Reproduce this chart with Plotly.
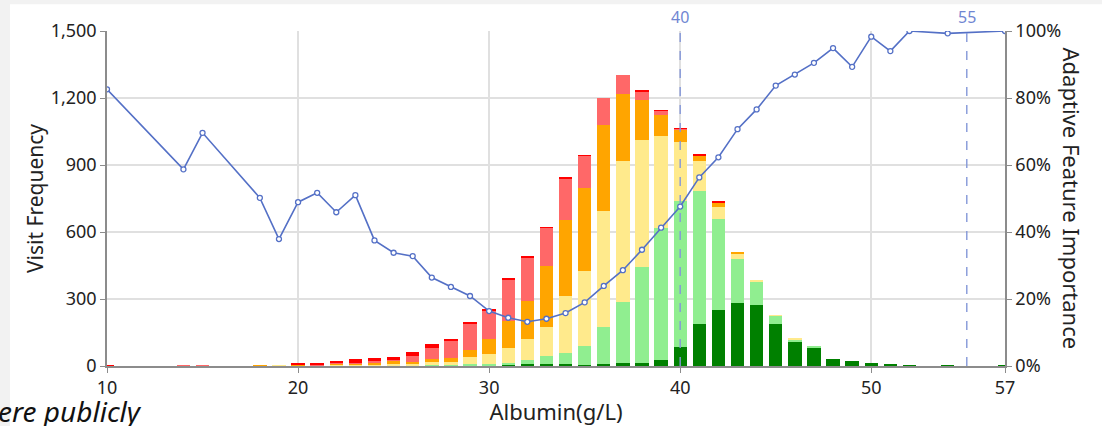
import plotly.graph_objects as go

# albumin value (g/L) for each bar / line point
albumin = [10, 14, 15, 18, 19, 20, 21, 22, 23, 24, 25, 26, 27, 28, 29, 30, 31, 32, 33, 34,
           35, 36, 37, 38, 39, 40, 41, 42, 43, 44, 45, 46, 47, 48, 49, 50, 51, 52, 54, 57]

# visit counts per risk band (bottom -> top of stack)
dark_green = [0, 0, 0, 0, 0, 0, 0, 0, 0, 0, 0, 0, 0, 0, 0, 2, 3, 9, 7, 7,
              6, 10, 15, 15, 25, 84, 188, 252, 281, 275, 188, 106, 79, 31, 22, 12, 5, 3, 2, 1]
light_green = [0, 0, 0, 0, 0, 0, 0, 0, 0, 0, 4, 3, 6, 6, 9, 8, 9, 19, 36, 49,
               84, 166, 270, 428, 594, 657, 596, 406, 199, 101, 36, 13, 10, 0, 0, 0, 0, 0, 0, 0]
yellow = [0, 0, 0, 0, 3, 2, 1, 5, 5, 6, 7, 6, 12, 10, 30, 43, 69, 91, 133, 257,
          336, 518, 634, 567, 409, 261, 134, 55, 24, 9, 4, 4, 0, 0, 0, 0, 0, 0, 0, 0]
orange = [0, 0, 0, 3, 0, 3, 2, 6, 7, 8, 12, 7, 15, 22, 31, 68, 122, 173, 272, 340,
          370, 384, 300, 182, 96, 55, 24, 18, 6, 0, 0, 0, 0, 0, 0, 0, 0, 0, 0, 0]
salmon = [0, 3, 3, 0, 0, 2, 2, 4, 3, 7, 6, 31, 49, 75, 121, 128, 185, 193, 170, 187,
          145, 124, 84, 39, 18, 5, 0, 0, 0, 0, 0, 0, 0, 0, 0, 0, 0, 0, 0, 0]
red = [2, 0, 0, 0, 0, 5, 5, 6, 15, 13, 13, 15, 16, 7, 6, 5, 4, 4, 4, 6,
       2, 0, 0, 4, 4, 2, 6, 6, 0, 0, 0, 0, 0, 0, 0, 0, 0, 0, 0, 0]

# adaptive feature importance (fraction)
importance = [0.826, 0.587, 0.696, 0.502, 0.379, 0.489, 0.517, 0.459, 0.510, 0.375,
              0.338, 0.328, 0.264, 0.236, 0.209, 0.164, 0.144, 0.132, 0.141, 0.158,
              0.190, 0.239, 0.286, 0.347, 0.413, 0.476, 0.563, 0.623, 0.707, 0.766,
              0.837, 0.870, 0.905, 0.949, 0.893, 0.983, 0.940, 1.0, 0.993, 1.0]

cutoffs = [40, 55]

bands = [
    ("dark green", dark_green, "#008000"),
    ("light green", light_green, "#90EE90"),
    ("yellow", yellow, "#FFEA8C"),
    ("orange", orange, "#FFA500"),
    ("salmon", salmon, "#FF6868"),
    ("red", red, "#FF0000"),
]

BLUE = "#5470C6"
FONT = "Noto Sans"

fig = go.Figure()
for name, vals, col in bands:
    fig.add_trace(go.Bar(x=albumin, y=vals, name=name, width=0.7,
                         marker=dict(color=col, line=dict(width=0))))

fig.add_trace(go.Scatter(x=albumin, y=importance, yaxis="y2", mode="lines+markers",
                         line=dict(color=BLUE, width=1.6),
                         marker=dict(symbol="circle", size=5, color="white",
                                     line=dict(color=BLUE, width=1.3)),
                         name="importance"))

for c in cutoffs:
    fig.add_shape(type="line", xref="x", yref="paper", x0=c, x1=c, y0=0, y1=1.01,
                  line=dict(color="#8497D8", width=1.4, dash="dash"))
    fig.add_annotation(x=c, y=1.01, xref="x", yref="paper", text=str(c), showarrow=False,
                       yanchor="bottom", yshift=-2, font=dict(color="#7086D2", size=16, family=FONT))

fig.add_annotation(x=1, y=0.5, xref="paper", yref="paper", xshift=67, xanchor="center",
                   text="Adaptive Feature Importance", textangle=90, showarrow=False,
                   font=dict(size=22, color="#222", family=FONT))

fig.add_annotation(x=0, y=0, xref="paper", yref="paper", xshift=-111, yshift=-24,
                   xanchor="left", yanchor="top", text="<i>ere publicly</i>", showarrow=False,
                   font=dict(size=28, color="#111", family=FONT))

# faint page strips at the top and left edge
fig.add_shape(type="rect", xref="paper", yref="paper", x0=-0.2, x1=1.2, y0=1.08, y1=1.2,
              fillcolor="#F2F2F2", line=dict(width=0), layer="below")
fig.add_shape(type="rect", xref="paper", yref="paper", x0=-0.2, x1=-0.108, y0=-0.3, y1=1.2,
              fillcolor="#F2F2F2", line=dict(width=0), layer="below")

fig.update_layout(
    width=1102, height=426,
    margin=dict(l=107, r=97, t=31, b=60),
    barmode="stack", bargap=0.3,
    showlegend=False,
    plot_bgcolor="white", paper_bgcolor="white",
    font=dict(family=FONT, color="#222", size=18),
    xaxis=dict(range=[10, 57], tickvals=[10, 20, 30, 40, 50, 57],
               showgrid=True, gridcolor="#E0E0E0", gridwidth=1.5,
               showline=True, linecolor="#8C8C8C", linewidth=1.5,
               ticks="outside", ticklen=5, tickcolor="#8C8C8C",
               title=dict(text="Albumin(g/L)", font=dict(size=22), standoff=0),
               zeroline=False, tickfont=dict(size=18)),
    yaxis=dict(range=[0, 1500], tickvals=[0, 300, 600, 900, 1200, 1500], tickformat=",",
               showgrid=True, gridcolor="#E0E0E0", gridwidth=2,
               showline=True, linecolor="#8C8C8C", linewidth=1.5,
               ticks="outside", ticklen=5, tickcolor="#8C8C8C",
               title=dict(text="Visit Frequency", font=dict(size=21), standoff=1),
               zeroline=False, tickfont=dict(size=18)),
    yaxis2=dict(range=[0, 1], tickvals=[0, 0.2, 0.4, 0.6, 0.8, 1.0], tickformat=".0%",
                overlaying="y", side="right", showgrid=False,
                showline=True, linecolor="#8C8C8C", linewidth=1.5,
                ticks="outside", ticklen=5, tickcolor="#8C8C8C",
                zeroline=False, tickfont=dict(size=18)),
)

# drop the page's default body margin so the figure sits at the window's corner
fig.write_html("out.html", config={"displayModeBar": False},
               post_script="document.body.style.margin='0';")
